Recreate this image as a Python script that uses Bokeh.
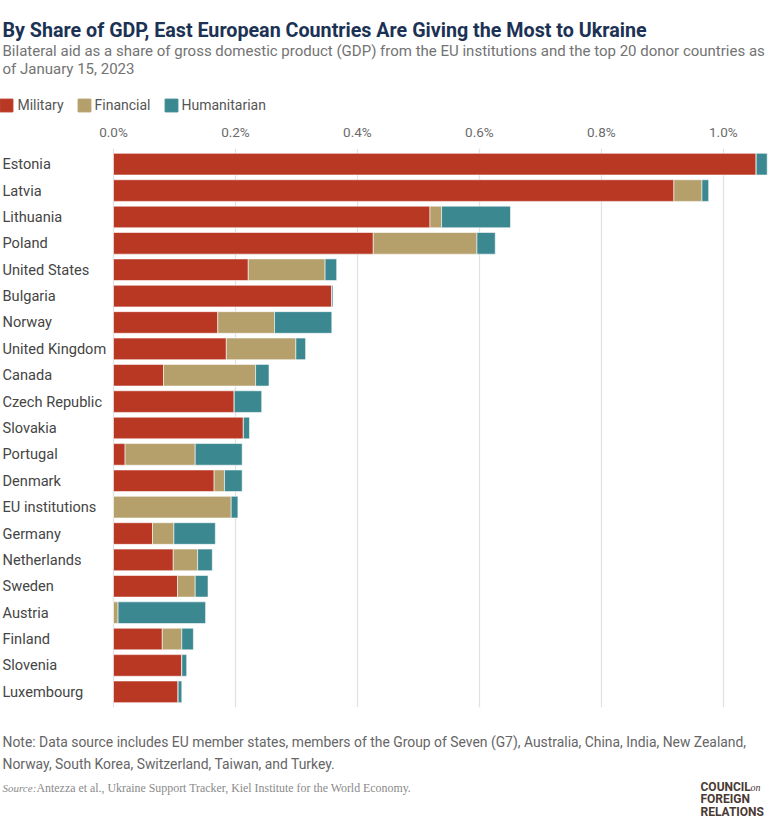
from bokeh.plotting import figure
from bokeh.layouts import column
from bokeh.models import (ColumnDataSource, FactorRange, Range1d, FixedTicker,
                          PrintfTickFormatter, Label, Legend, LegendItem)
from bokeh.core.properties import value
from bokeh.embed import file_html
from bokeh.resources import INLINE

countries = ["Estonia", "Latvia", "Lithuania", "Poland", "United States", "Bulgaria",
             "Norway", "United Kingdom", "Canada", "Czech Republic", "Slovakia",
             "Portugal", "Denmark", "EU institutions", "Germany", "Netherlands",
             "Sweden", "Austria", "Finland", "Slovenia", "Luxembourg"]
military = [1.054, 0.919, 0.519, 0.426, 0.221, 0.358, 0.171, 0.185, 0.082, 0.198, 0.213,
            0.019, 0.165, 0.0, 0.064, 0.098, 0.105, 0.0, 0.080, 0.112, 0.106]
financial = [0.0, 0.046, 0.019, 0.170, 0.126, 0.0, 0.093, 0.114, 0.151, 0.0, 0.0,
             0.115, 0.017, 0.193, 0.035, 0.040, 0.029, 0.0075, 0.032, 0.0, 0.0]
humanitarian = [0.018, 0.011, 0.113, 0.030, 0.019, 0.002, 0.094, 0.016, 0.022, 0.045, 0.010,
                0.077, 0.029, 0.011, 0.068, 0.024, 0.021, 0.1435, 0.019, 0.008, 0.006]
series = ["Military", "Financial", "Humanitarian"]
colors = ["#B93824", "#B59F6B", "#3B8890"]
ticks = [0.0, 0.2, 0.4, 0.6, 0.8, 1.0]

title = "By Share of GDP, East European Countries Are Giving the Most to Ukraine"
subtitle = ["Bilateral aid as a share of gross domestic product (GDP) from the EU institutions and the top 20 donor countries as",
            "of January 15, 2023"]
note = ["Note: Data source includes EU member states, members of the Group of Seven (G7), Australia, China, India, New Zealand,",
        "Norway, South Korea, Switzerland, Taiwan, and Turkey."]
source_label = "Source:"
source_text = "Antezza et al., Ukraine Support Tracker, Kiel Institute for the World Economy."
logo = ["COUNCIL", "FOREIGN", "RELATIONS"]

FONT = "Roboto"
W = 768
H_HEAD, H_MAIN, H_FOOT = 115, 605, 109

src = ColumnDataSource(dict(country=countries, military=military,
                            financial=financial, humanitarian=humanitarian))


def blank(h):
    f = figure(width=W, height=h, x_range=Range1d(0, W), y_range=Range1d(h, 0),
               x_axis_location=None, y_axis_location=None,
               toolbar_location=None, output_backend="svg",
               min_border_left=0, min_border_right=0, min_border_top=0, min_border_bottom=0,
               outline_line_color=None)
    f.xgrid.visible = False
    f.ygrid.visible = False
    return f


def lab(f, x, y, text, size, color, style="normal", font=FONT, baseline="alphabetic"):
    f.add_layout(Label(x=x, y=y, text=text, text_font=font, text_font_size=size,
                       text_color=color, text_font_style=style, text_baseline=baseline))


# ---------- header ----------
head = blank(H_HEAD)
lab(head, 2, 30, title, "19.7px", "#1c3254", "bold")
lab(head, 2, 50, subtitle[0], "15px", "#737373")
lab(head, 2, 68.5, subtitle[1], "15px", "#737373")

# legend keys: hidden stand-in renderers (same data columns), only their swatches show
items = []
for col, name, c in zip(["military", "financial", "humanitarian"], series, colors):
    r = head.quad(left=col, right=col, top=col, bottom=col, source=src,
                  fill_color=c, line_color=c, visible=False)
    items.append(LegendItem(label=name, renderers=[r]))
leg = Legend(items=items, orientation="horizontal", location=(-1.6, 2),
             glyph_width=16, glyph_height=16, label_standoff=3, spacing=12,
             padding=0, margin=0, border_line_color=None, background_fill_alpha=0,
             inactive_fill_alpha=0,
             label_text_font=FONT, label_text_font_size="14px",
             label_text_color="#555555")
head.add_layout(leg)

# ---------- main chart ----------
PX_PER_UNIT = 609.8
ZERO_PX = 113
x_start = -ZERO_PX / PX_PER_UNIT
x_end = (W - ZERO_PX) / PX_PER_UNIT

p = figure(width=W, height=H_MAIN,
           y_range=FactorRange(factors=countries[::-1], range_padding=0.009),
           x_range=Range1d(x_start, x_end),
           x_axis_location="above", y_axis_location=None,
           toolbar_location=None, output_backend="svg",
           min_border_left=0, min_border_right=0,
           min_border_top=33, min_border_bottom=13,
           outline_line_color=None)

p.hbar_stack(["military", "financial", "humanitarian"], y="country", height=0.82,
             color=colors, source=src,
             line_color="white", line_width=0.8, line_alpha=0.7)

p.text(x=x_start, y="country", text="country", source=src, x_offset=2,
       text_font=value(FONT), text_font_size="14.6px", text_color="#454545",
       text_baseline="middle", text_align="left")

ax = p.xaxis[0]
ax.ticker = FixedTicker(ticks=ticks)
ax.formatter = PrintfTickFormatter(format="%.1f%%")
ax.axis_line_color = None
ax.major_tick_line_color = None
ax.minor_tick_line_color = None
ax.major_tick_out = 0
ax.major_tick_in = 0
ax.major_label_standoff = 9
ax.major_label_text_font = FONT
ax.major_label_text_font_size = "13.5px"
ax.major_label_text_color = "#6b6b6b"

p.xgrid.ticker = FixedTicker(ticks=ticks)
p.xgrid.grid_line_color = "#e2e2e2"
p.xgrid.grid_line_width = 1.3
p.ygrid.grid_line_color = None

# ---------- footer ----------
foot = blank(H_FOOT)
lab(foot, 2, 21, note[0], "13.9px", "#666666", baseline="middle")
lab(foot, 2, 43, note[1], "13.9px", "#666666", baseline="middle")
lab(foot, 2, 67, source_label, "11px", "#8a8a8a", "italic", "Liberation Serif", "middle")
lab(foot, 36, 67, source_text, "11.9px", "#8a8a8a", "normal", "Liberation Serif", "middle")
lab(foot, 700, 66, logo[0], "12px", "#4a3a33", "bold", baseline="middle")
lab(foot, 750, 67, "on", "10px", "#4a3a33", "italic", "Liberation Serif", "middle")
lab(foot, 700, 78, logo[1], "12px", "#4a3a33", "bold", baseline="middle")
lab(foot, 700, 91, logo[2], "12px", "#4a3a33", "bold", baseline="middle")

layout = column(head, p, foot, spacing=0)
open("out.html", "w").write(file_html(layout, INLINE))
